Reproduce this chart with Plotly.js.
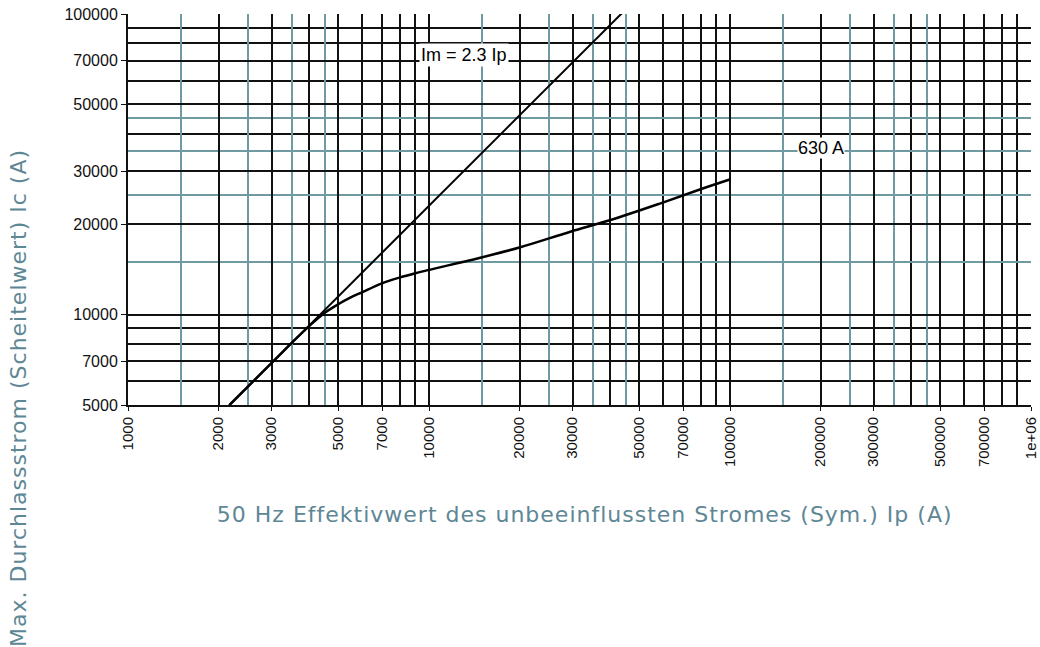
<!DOCTYPE html>
<html>
<head>
<meta charset="utf-8">
<script src="https://cdn.plot.ly/plotly-3.0.1.min.js"></script>
<style>
html,body{margin:0;padding:0;background:#fff;}
#chart{width:1040px;height:647px;}
.annotation[data-index="2"] text, .annotation[data-index="3"] text{letter-spacing:1px;}
</style>
</head>
<body>
<div id="chart"></div>
<script>
// ---- data ----
var xTickVals = [1000, 2000, 3000, 5000, 7000, 10000, 20000, 30000, 50000, 70000, 100000, 200000, 300000, 500000, 700000, 1000000];
var xTickText = ["1000", "2000", "3000", "5000", "7000", "10000", "20000", "30000", "50000", "70000", "100000", "200000", "300000", "500000", "700000", "1e+06"];
var xBlackMinor = [4000, 6000, 8000, 9000, 40000, 60000, 80000, 90000, 400000, 600000, 800000, 900000];
var xTeal = [1500, 2500, 3500, 4500, 15000, 25000, 35000, 45000, 150000, 250000, 350000, 450000];

var yTickVals = [5000, 7000, 10000, 20000, 30000, 50000, 70000, 100000];
var yTickText = ["5000", "7000", "10000", "20000", "30000", "50000", "70000", "100000"];
var yBlackMinor = [6000, 8000, 9000, 40000, 60000, 80000, 90000];
var yTeal = [15000, 25000, 35000, 45000];

// Im = 2.3 Ip line
var imX = [2000, 50000];
var imY = [4600, 115000];

// 630 A curve
var c630X = [2174, 3000, 3600, 4000, 4450, 4943, 5474, 5987, 6978, 8029, 9005, 9970, 14800, 20100, 29500, 40100, 58800, 79800, 100400];
var c630Y = [5000, 6900, 8280, 9150, 10050, 10755, 11376, 11855, 12700, 13295, 13720, 14073, 15450, 16744, 18865, 20628, 23442, 26106, 28180];

var labelIm = {text: "Im = 2.3 Ip", x: 13100, y: 73000};
var label630 = {text: "630 A", x: 200000, y: 35800};

var xTitle = "50 Hz Effektivwert des unbeeinflussten Stromes (Sym.) Ip (A)";
var yTitle = "Max. Durchlassstrom (Scheitelwert) Ic (A)";

// ---- chart ----
var black = "#111111";
var teal = "#6f9aa1";
var titleColor = "#5e8795";
var xRange = [3, 6];
var yRange = [Math.log10(5000), 5];
var titleFont = {size: 22, color: titleColor, family: "DejaVu Sans, sans-serif"};

var traces = [
  {x: [], y: [], xaxis: "x", yaxis: "y", type: "scatter", mode: "lines", showlegend: false, hoverinfo: "skip"},
  {x: imX, y: imY, xaxis: "x2", yaxis: "y2", type: "scatter", mode: "lines",
   line: {color: "#000", width: 2}, showlegend: false},
  {x: c630X, y: c630Y, xaxis: "x2", yaxis: "y2", type: "scatter", mode: "lines",
   line: {color: "#000", width: 2.5, shape: "spline", smoothing: 1}, showlegend: false}
];

var layout = {
  width: 1040, height: 647,
  margin: {l: 128, r: 9, t: 14, b: 242},
  paper_bgcolor: "#fff", plot_bgcolor: "#fff",
  showlegend: false,
  font: {family: "Liberation Sans, Arial, sans-serif", color: "#000"},
  xaxis: {type: "log", range: xRange, tickmode: "array", tickvals: xTeal, showticklabels: false,
          ticks: "", showgrid: true, gridcolor: teal, gridwidth: 2, showline: false, zeroline: false,
          fixedrange: true},
  yaxis: {type: "log", range: yRange, tickmode: "array", tickvals: yTeal, showticklabels: false,
          ticks: "", showgrid: true, gridcolor: teal, gridwidth: 2, showline: false, zeroline: false,
          fixedrange: true},
  xaxis2: {type: "log", range: xRange, overlaying: "x", anchor: "y2", side: "bottom",
           tickmode: "array", tickvals: xTickVals, ticktext: xTickText, tickangle: -90,
           tickfont: {size: 15, color: "#111"}, ticks: "outside", ticklen: 4, tickcolor: black, tickwidth: 1,
           showgrid: true, gridcolor: black, gridwidth: 2, showline: true, linecolor: black, linewidth: 2,
           minor: {tickmode: "array", tickvals: xBlackMinor, showgrid: true, gridcolor: black, gridwidth: 2, ticks: ""},
           zeroline: false, fixedrange: true},
  yaxis2: {type: "log", range: yRange, overlaying: "y", anchor: "x2", side: "left",
           tickmode: "array", tickvals: yTickVals, ticktext: yTickText,
           tickfont: {size: 16, color: "#111"}, ticks: "outside", ticklen: 5, tickcolor: black, tickwidth: 1,
           showgrid: true, gridcolor: black, gridwidth: 2, showline: true, linecolor: black, linewidth: 2,
           minor: {tickmode: "array", tickvals: yBlackMinor, showgrid: true, gridcolor: black, gridwidth: 2, ticks: ""},
           zeroline: false, fixedrange: true},
  annotations: [
    {text: labelIm.text, xref: "x2", yref: "y2", x: Math.log10(labelIm.x), y: Math.log10(labelIm.y),
     showarrow: false, bgcolor: "#fff", borderpad: 1, font: {size: 18, color: "#000", family: "Liberation Sans, Arial, sans-serif"}},
    {text: label630.text, xref: "x2", yref: "y2", x: Math.log10(label630.x), y: Math.log10(label630.y),
     showarrow: false, bgcolor: "#fff", borderpad: 0, font: {size: 18, color: "#000", family: "Liberation Sans, Arial, sans-serif"}},
    {text: xTitle, xref: "paper", yref: "paper", x: 0.506, y: -0.281, xanchor: "center", yanchor: "middle",
     showarrow: false, font: titleFont},
    {text: yTitle, xref: "paper", yref: "paper", x: -0.1207, y: 0.0166, xanchor: "center", yanchor: "middle",
     textangle: -90, showarrow: false, font: titleFont}
  ]
};

Plotly.newPlot("chart", traces, layout, {displayModeBar: false});
</script>
</body>
</html>
